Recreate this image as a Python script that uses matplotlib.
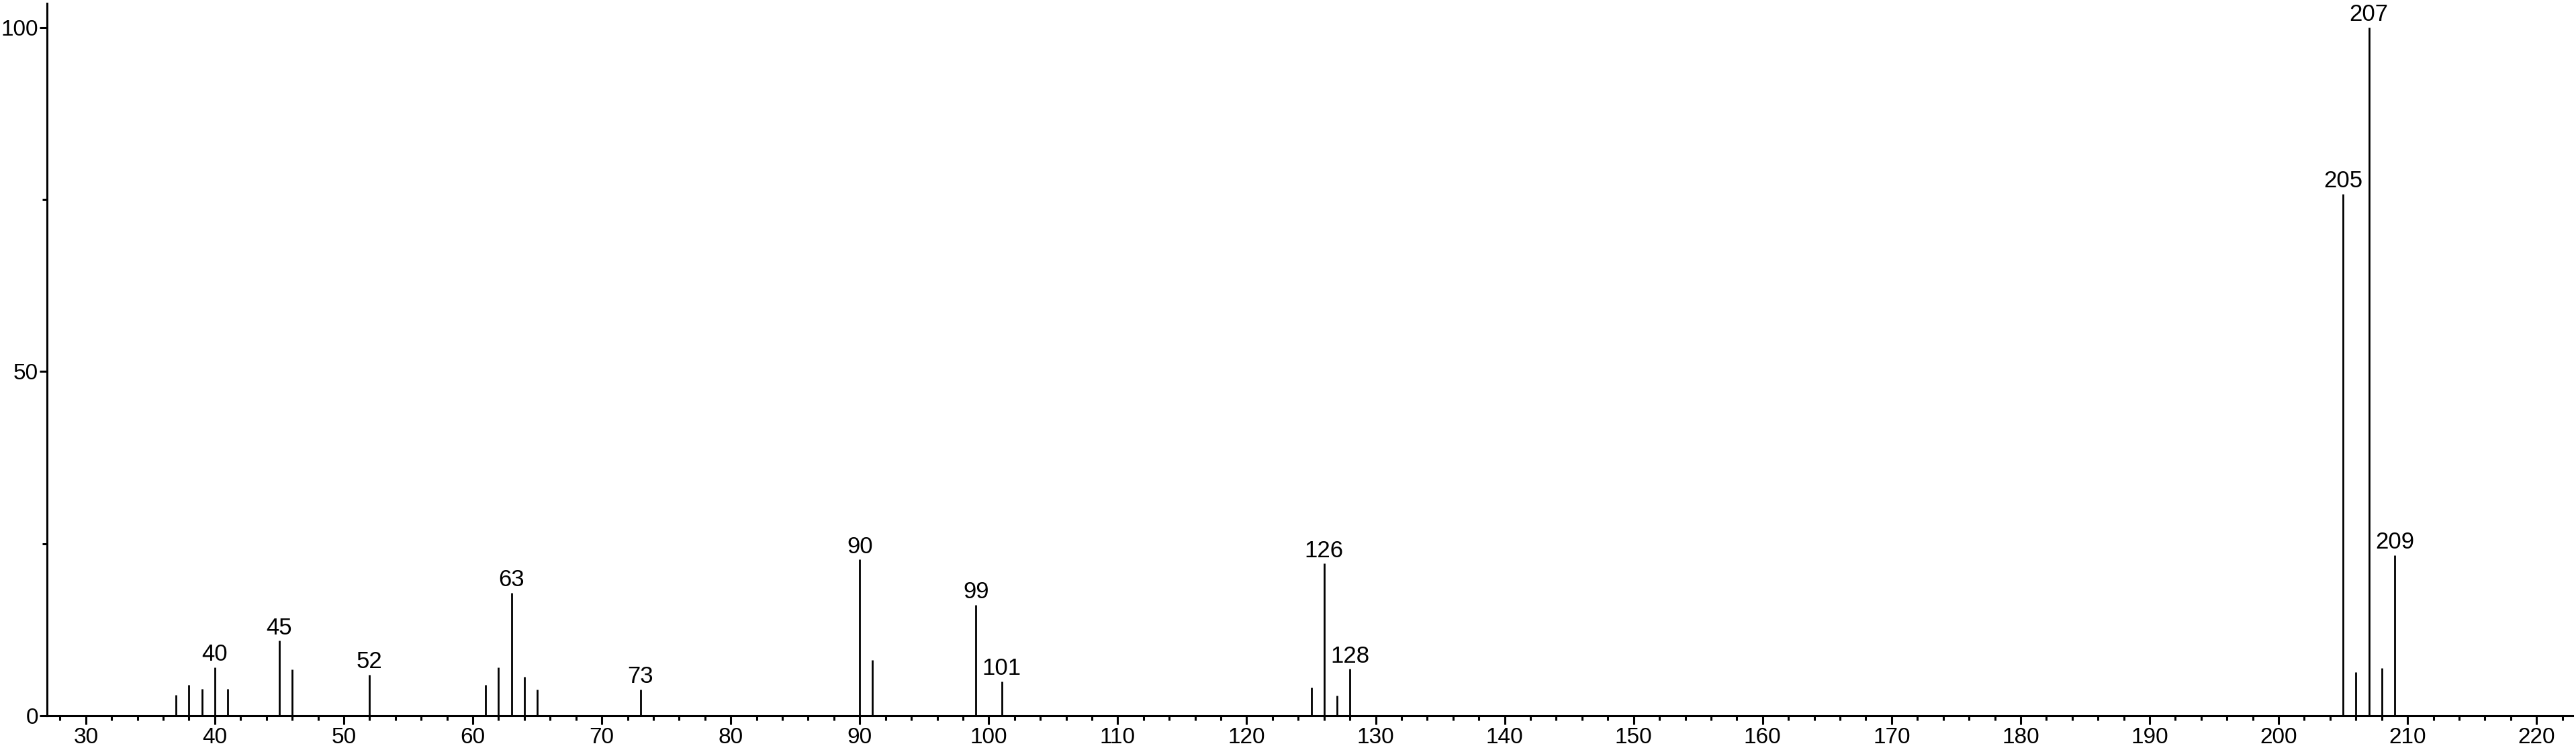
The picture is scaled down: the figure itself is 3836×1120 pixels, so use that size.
import matplotlib
matplotlib.use('Agg')
import matplotlib.pyplot as plt
from matplotlib.ticker import MultipleLocator

# m/z and relative intensity
mz = [37, 38, 39, 40, 41, 45, 46, 52, 61, 62, 63, 64, 65, 73, 90, 91,
      99, 101, 125, 126, 127, 128, 205, 206, 207, 208, 209]
intensity = [3.0, 4.5, 3.9, 7.0, 3.9, 10.9, 6.7, 6.0, 4.5, 7.0, 17.9, 5.7,
             3.8, 3.8, 22.7, 8.1, 16.1, 5.0, 4.1, 22.1, 2.9, 6.8, 75.8,
             6.3, 100.0, 6.9, 23.3]
labelled = [40, 45, 52, 63, 73, 90, 99, 101, 126, 128, 205, 207, 209]


def main():
    plt.rcParams['font.family'] = ['Liberation Sans', 'DejaVu Sans']

    fig = plt.figure(figsize=(38.36, 11.2), dpi=100)
    ax = fig.add_axes([0.0183, 0.0482, 0.9804, 0.9473])

    ax.vlines(mz, 0, intensity, colors='black', linewidth=2.0)

    for m, h in zip(mz, intensity):
        if m in labelled:
            ax.annotate(str(m), xy=(m, h), xytext=(0, 2), textcoords='offset points',
                        ha='center', va='bottom', fontsize=25, clip_on=False)

    ax.set_xlim(27, 222.8)
    ax.set_ylim(0, 103.5)

    ax.spines['top'].set_visible(False)
    ax.spines['right'].set_visible(False)
    ax.spines['left'].set_linewidth(2.2)
    ax.spines['bottom'].set_linewidth(2.2)

    ax.set_xticks(range(30, 221, 10))
    ax.xaxis.set_minor_locator(MultipleLocator(2))
    ax.yaxis.set_major_locator(MultipleLocator(50))
    ax.yaxis.set_minor_locator(MultipleLocator(25))

    ax.tick_params(axis='x', which='major', length=9.4, width=2.2, labelsize=24, pad=3)
    ax.tick_params(axis='x', which='minor', length=5, width=2.2)
    ax.tick_params(axis='y', which='major', length=8, width=2.2, labelsize=24, pad=1.5)
    ax.tick_params(axis='y', which='minor', length=5, width=2.2)

    fig.savefig('out.png', dpi=100)


if __name__ == '__main__':
    main()
